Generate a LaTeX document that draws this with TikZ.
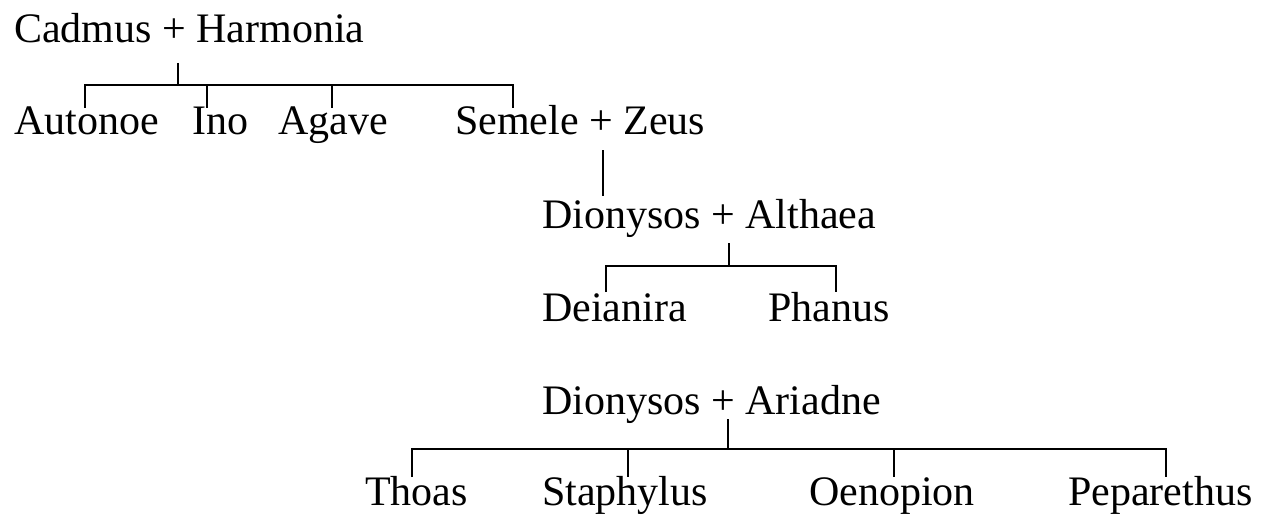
\documentclass[tikz,border=0pt]{standalone}
\usepackage{fontspec}
\setmainfont{Liberation Serif}
\begin{document}
\begin{tikzpicture}[x=1pt,y=-1pt,
  person/.style={anchor=base west,inner sep=0pt,font=\fontsize{42}{50}\selectfont},
  kin/.style={line width=1.8pt}]
\useasboundingbox[fill=white] (0,0) rectangle (1273,516);

% --- people ---
\node[person] (cadmus)   at (14,43)   {Cadmus + Harmonia};
\node[person] (autonoe)  at (14,135)  {Autonoe};
\node[person] (ino)      at (192,135) {Ino};
\node[person] (agave)    at (278,135) {Agave};
\node[person] (semele)   at (455,135) {Semele + Zeus};
\node[person] (dalthaea) at (542,228) {Dionysos + Althaea};
\node[person] (deianira) at (542,321) {Deianira};
\node[person] (phanus)   at (768,321) {Phanus};
\node[person] (dariadne) at (542,414) {Dionysos + Ariadne};
\node[person] (thoas)    at (365,505) {Thoas};
\node[person] (staphylus) at (542,505) {Staphylus};
\node[person] (oenopion) at (809,505) {Oenopion};
\node[person] (peparethus) at (1068,505) {Peparethus};

% --- junction points ---
\coordinate (c-top) at (178,63);
\coordinate (c-bar) at (178,85);
\coordinate (au-t) at (85,85);   \coordinate (au-b) at (85,108);
\coordinate (in-t) at (207,85);  \coordinate (in-b) at (207,108);
\coordinate (ag-t) at (332,85);  \coordinate (ag-b) at (332,108);
\coordinate (se-t) at (513,85);  \coordinate (se-b) at (513,108);

\coordinate (sz-top) at (603,150);
\coordinate (sz-bot) at (603,196);

\coordinate (da-top) at (729,243);
\coordinate (da-bar) at (729,266);
\coordinate (de-t) at (606,266); \coordinate (de-b) at (606,292);
\coordinate (ph-t) at (836,266); \coordinate (ph-b) at (836,292);

\coordinate (dr-top) at (728,419);
\coordinate (dr-bar) at (728,449);
\coordinate (th-t) at (412,449);  \coordinate (th-b) at (412,477);
\coordinate (st-t) at (628,449);  \coordinate (st-b) at (628,477);
\coordinate (oe-t) at (894,449);  \coordinate (oe-b) at (894,477);
\coordinate (pe-t) at (1166,449); \coordinate (pe-b) at (1166,477);

% --- Cadmus and Harmonia's daughters ---
\draw[kin] (c-top) -- (c-bar);
\draw[kin] (au-b) -- (au-t) -- (se-t) -- (se-b);
\draw[kin] (in-t) -- (in-b);
\draw[kin] (ag-t) -- (ag-b);

% --- Semele and Zeus to Dionysos ---
\draw[kin] (sz-top) -- (sz-bot);

% --- Dionysos and Althaea ---
\draw[kin] (da-top) -- (da-bar);
\draw[kin] (de-b) -- (de-t) -- (ph-t) -- (ph-b);

% --- Dionysos and Ariadne ---
\draw[kin] (dr-top) -- (dr-bar);
\draw[kin] (th-b) -- (th-t) -- (pe-t) -- (pe-b);
\draw[kin] (st-t) -- (st-b);
\draw[kin] (oe-t) -- (oe-b);
\end{tikzpicture}
\end{document}
